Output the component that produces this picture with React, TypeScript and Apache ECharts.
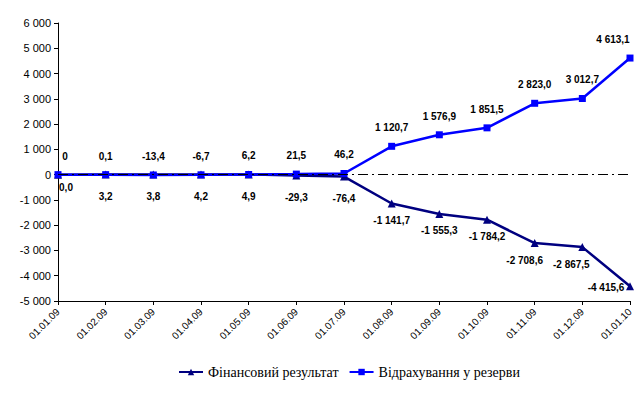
import React, { useEffect, useRef } from "react";
import * as echarts from "echarts";

const categories = ["01.01.09", "01.02.09", "01.03.09", "01.04.09", "01.05.09", "01.06.09", "01.07.09", "01.08.09", "01.09.09", "01.10.09", "01.11.09", "01.12.09", "01.01.10"];
const finResult = [0.0, 3.2, 3.8, 4.2, 4.9, -29.3, -76.4, -1141.7, -1555.3, -1784.2, -2708.6, -2867.5, -4415.6];
const reserves = [0, 0.1, -13.4, -6.7, 6.2, 21.5, 46.2, 1120.7, 1576.9, 1851.5, 2823.0, 3012.7, 4613.1];
const seriesNames = ["Фінансовий результат", "Відрахування у резерви"];

function fmtNum(v: number, dec: number): string {
  const neg = v < 0;
  const s = Math.abs(v).toFixed(dec);
  const [ip, fp] = s.split(".");
  const ipS = ip.replace(/\B(?=(\d{3})+(?!\d))/g, " ");
  return (neg ? "-" : "") + ipS + (fp !== undefined ? "," + fp : "");
}

export default function App() {
  const ref = useRef<HTMLDivElement>(null);
  useEffect(() => {
    if (!ref.current) return;
    const chart = echarts.init(ref.current, undefined, { renderer: "svg" });
    const labelFont = { fontFamily: "Liberation Sans, Arial", fontSize: 10, fontWeight: "bold" as const, color: "#000" };
    const last = categories.length - 1;
    chart.setOption({
      animation: false,
      backgroundColor: "#fff",
      grid: { left: 58, right: 14, top: 23, bottom: 92 },
      legend: {
        bottom: 9,
        left: 173,
        itemWidth: 24,
        itemHeight: 8,
        itemGap: 10,
        textStyle: { fontFamily: "Liberation Serif, Times New Roman", fontSize: 14, color: "#000" },
        data: seriesNames,
      },
      xAxis: {
        type: "category",
        data: categories,
        boundaryGap: false,
        axisLine: { onZero: false, lineStyle: { color: "#000", width: 1 } },
        axisTick: { alignWithLabel: true, length: 4, lineStyle: { color: "#000" } },
        axisLabel: { rotate: 45, fontFamily: "Liberation Sans, Arial", fontSize: 10, color: "#000", margin: 9, interval: 0 },
        splitLine: { show: false },
      },
      yAxis: {
        type: "value",
        min: -5000,
        max: 6000,
        interval: 1000,
        axisLine: { show: true, lineStyle: { color: "#000", width: 1 } },
        axisTick: { show: true, length: 4, lineStyle: { color: "#000" } },
        axisLabel: {
          fontFamily: "Liberation Sans, Arial",
          fontSize: 11,
          color: "#000",
          margin: 7,
          formatter: (v: number) => fmtNum(v, 0),
        },
        splitLine: { show: false },
      },
      series: [
        {
          name: seriesNames[0],
          type: "line",
          data: finResult,
          color: "#000080",
          lineStyle: { color: "#000080", width: 2.5 },
          itemStyle: { color: "#000080" },
          symbol: "triangle",
          symbolSize: 8,
          label: {
            show: true,
            position: "bottom",
            distance: 8,
            ...labelFont,
            formatter: (p: any) => fmtNum(p.value, 1),
          },
          labelLayout: (p: any) => {
            const i = p.dataIndex;
            if (i === 0) return { dx: 8, dy: -4 };
            if (i >= 1 && i <= 6) return { dy: 5 };
            if (i === last) return { dx: -24, dy: -16 };
            if (i === last - 1) return { dx: -11 };
            if (i === last - 2) return { dx: -10 };
            return {};
          },
          markLine: {
            silent: true,
            symbol: "none",
            label: { show: false },
            lineStyle: { color: "#000", width: 1, type: [10, 4, 2, 4] },
            data: [{ yAxis: 0 }],
          },
          z: 2,
        },
        {
          name: seriesNames[1],
          type: "line",
          data: reserves,
          color: "#0000FF",
          lineStyle: { color: "#0000FF", width: 2.5 },
          itemStyle: { color: "#0000FF" },
          symbol: "rect",
          symbolSize: 7,
          label: {
            show: true,
            position: "top",
            distance: 10,
            ...labelFont,
            formatter: (p: any) => (p.dataIndex === 0 ? "0" : fmtNum(p.value, 1)),
          },
          labelLayout: (p: any) => {
            const i = p.dataIndex;
            if (i === 0) return { dx: 7 };
            if (i === last) return { dx: -17 };
            return {};
          },
          z: 3,
        },
      ],
    });
    return () => chart.dispose();
  }, []);
  return <div ref={ref} style={{ width: 644, height: 393, position: "absolute", left: 0, top: 0 }} />;
}
